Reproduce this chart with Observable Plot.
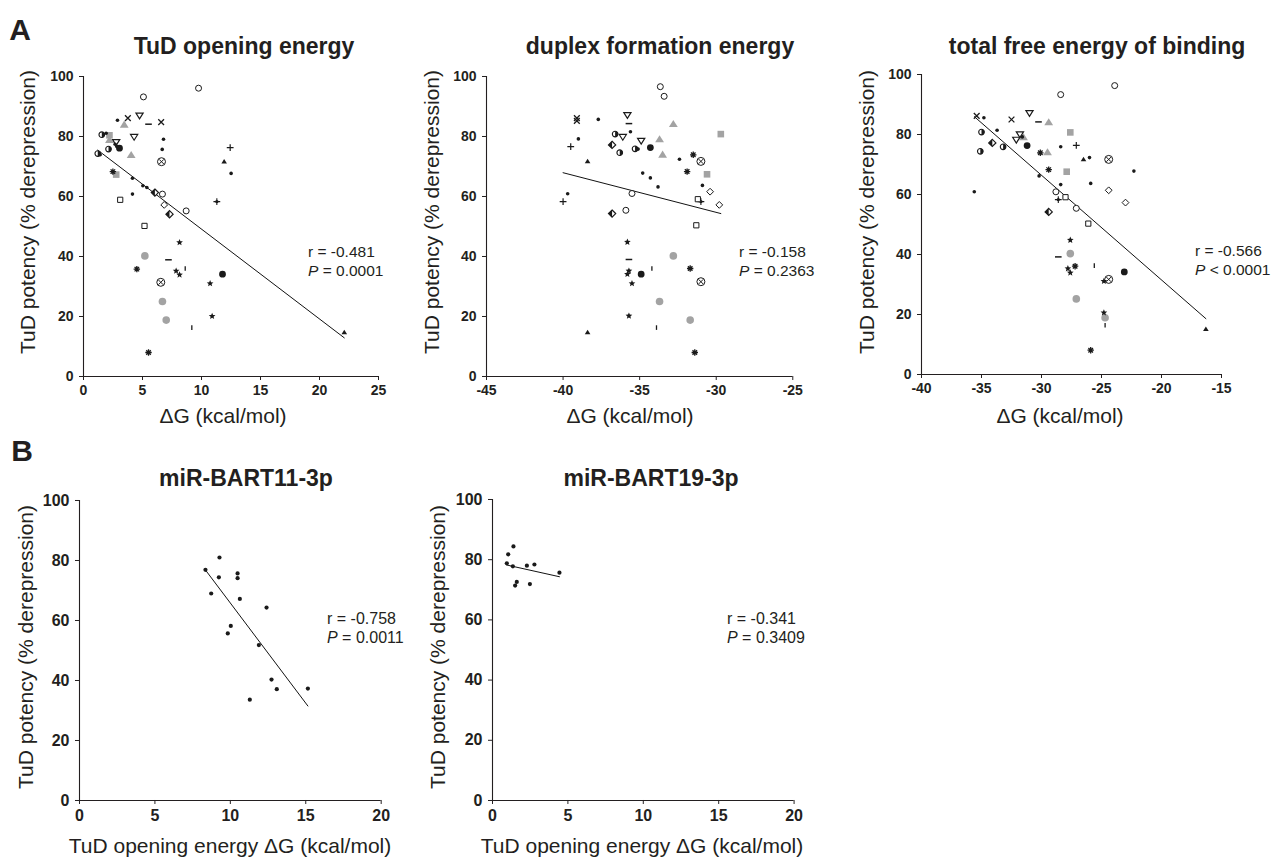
<!DOCTYPE html>
<html><head><meta charset="utf-8">
<script src="https://cdn.jsdelivr.net/npm/d3@7"></script>
<script src="https://cdn.jsdelivr.net/npm/@observablehq/plot@0.6"></script>
<style>
body{margin:0;background:#fff;}
#fig{position:relative;width:1272px;height:857px;font-family:"Liberation Sans",Arial,Helvetica,sans-serif;color:#231f20;overflow:hidden;background:#fff}
.lbl{position:absolute;white-space:nowrap;line-height:1;transform:translate(-50%,-50%)}
.ylab{transform:translate(-50%,-50%) rotate(-90deg)}
.panel{position:absolute}
.panel svg{overflow:visible}
.panel svg text{font-size:inherit}
.stat{position:absolute;white-space:nowrap;line-height:1;transform:translate(0,-50%)}
</style></head><body><div id="fig"></div>
<script>
// ---------- data ----------
const yTicks = [0, 20, 40, 60, 80, 100];
const p1Ticks = [0, 5, 10, 15, 20, 25];
const p2Ticks = [-45, -40, -35, -30, -25];
const p3Ticks = [-40, -35, -30, -25, -20, -15];
const bTicks = [0, 5, 10, 15, 20];

// Panel A1: TuD opening energy
const p1X = [9.75,5.08,2.88,3.76,3.45,4.75,5.51,6.58,1.55,1.92,
  2.20,2.20,2.77,4.29,2.12,2.68,2.82,3.05,4.04,6.78,
  6.67,6.61,1.21,1.41,12.43,11.92,12.51,2.49,2.77,4.15,
  4.15,5.03,5.37,6.05,6.69,6.84,7.29,8.70,11.30,3.11,
  5.17,8.14,5.20,7.20,4.52,7.85,8.14,8.62,11.78,6.55,
  10.73,6.69,7.01,10.90,9.18,5.51,22.1];
const p1Y = [96.1,93.2,85.4,86.1,83.9,87.0,84.1,84.8,80.6,81.1,
  80.4,78.8,78.2,79.9,75.8,77.4,76.7,76.1,73.8,79.1,
  75.7,71.6,74.3,73.9,76.3,71.6,67.7,68.3,67.3,66.1,
  60.8,63.6,63.0,61.3,60.8,57.2,54.1,55.2,58.3,58.9,
  50.2,44.7,40.2,38.9,35.8,35.2,33.9,36.0,34.1,31.4,
  31.0,25.0,18.8,20.1,16.3,8.0,14.7];
const p1G = ["oc","oc","dot","x","gtri","tdn","dash","x","hc","dot",
  "gsq","gtri","tdn","tdn","hc","dot","dot","fc","gtri","dot",
  "dot","otimes","hc","dot","plus","ftri","dot","ast","gsq","dot",
  "dot","dot","dot","hdia","oc","dia","hdia","oc","pd","osq",
  "osq","star","gc","dash","ast","star","star","bar","fc","otimes",
  "star","gc","gc","star","bar","ast","ftri"];

// Panel A2: duplex formation energy
const p2X = [-33.65,-33.4,-39.1,-39.1,-37.7,-35.8,-35.7,-32.8,-29.7,-36.6,
  -36.1,-35.6,-33.7,-34.9,-39.0,-39.5,-36.8,-36.3,-35.3,-35.1,
  -34.3,-33.5,-32.4,-31.5,-31.0,-38.4,-31.9,-30.6,-34.8,-34.3,
  -33.8,-30.9,-30.4,-29.8,-31.2,-31.0,-39.7,-40.0,-35.5,-35.9,
  -36.8,-31.3,-35.8,-32.8,-35.7,-35.7,-35.8,-34.9,-34.2,-31.7,
  -35.5,-31.0,-33.7,-35.7,-31.7,-33.9,-38.4,-31.4];
const p2Y = [96.6,93.4,86.1,85.2,85.7,87.2,84.3,84.1,80.8,80.8,
  79.9,81.6,79.0,78.6,79.2,76.6,77.2,74.6,75.9,75.8,
  76.3,73.9,72.4,73.9,71.7,71.7,68.3,67.4,67.8,66.2,
  63.2,63.7,61.6,57.2,59.1,58.3,60.9,58.3,61.0,55.4,
  54.3,50.4,44.8,40.2,39.0,35.2,34.1,34.1,36.0,36.0,
  31.0,31.6,25.0,20.2,18.8,16.3,14.7,8.0];
const p2G = ["oc","oc","x","x","dot","tdn","dash","gtri","gsq","hc",
  "tdn","dot","gtri","tdn","dot","plus","hdia","hc","hc","dot",
  "fc","gtri","dot","ast","otimes","ftri","ast","gsq","dot","dot",
  "dot","dot","dia","dia","osq","pd","dot","plus","oc","oc",
  "hdia","osq","star","gc","dash","star","star","fc","bar","ast",
  "star","otimes","gc","star","gc","bar","ftri","ast"];

// Panel A3: total free energy of binding
const p3X = [-23.9,-28.4,-35.4,-34.8,-32.5,-31.0,-30.25,-29.4,-27.6,-35.0,
  -33.7,-31.8,-32.1,-31.5,-34.1,-33.2,-31.2,-28.4,-27.1,-35.1,
  -30.1,-29.5,-26.5,-26.0,-24.4,-22.3,-29.4,-27.9,-30.2,-28.4,
  -25.9,-24.4,-23.0,-35.6,-28.8,-28.6,-28.0,-27.1,-29.4,-26.1,
  -27.6,-27.6,-28.6,-27.2,-27.8,-27.6,-25.6,-23.1,-24.8,-24.4,
  -27.1,-24.8,-24.7,-24.7,-25.9,-16.3,-31.6];
const p3Y = [96.3,93.3,86.2,85.6,85.0,87.2,84.2,84.0,80.7,80.8,
  81.4,80.1,78.3,79.0,77.2,75.9,76.3,75.9,76.4,74.4,
  73.9,74.0,71.7,72.3,71.7,67.8,68.3,67.6,66.2,63.3,
  63.7,61.4,57.3,60.9,60.9,58.3,59.1,55.4,54.2,50.3,
  44.8,40.3,39.2,36.1,35.3,33.9,36.3,34.2,31.1,31.7,
  25.2,20.6,18.9,16.4,8.1,15.1,79.2];
const p3G = ["oc","oc","x","dot","x","tdn","dash","gtri","gsq","hc",
  "dot","tdn","tdn","gtri","hdia","hc","fc","dot","plus","hc",
  "ast","gtri","ftri","dot","otimes","dot","ast","gsq","dot","dot",
  "dot","dia","dia","dot","oc","pd","osq","oc","hdia","osq",
  "star","gc","dash","ast","star","star","bar","fc","star","otimes",
  "gc","star","gc","bar","ast","ftri","dot"];

// Panel B1: miR-BART11-3p
const b1X = [8.35,9.28,9.24,8.73,10.48,10.48,10.63,10.03,9.83,12.4,11.89,12.73,13.08,15.14,11.29];
const b1Y = [76.9,81.0,74.4,69.0,75.7,74.1,67.2,58.2,55.7,64.3,51.8,40.3,37.1,37.3,33.6];
// Panel B2: miR-BART19-3p
const b2X = [1.04,1.39,0.95,1.35,2.28,2.78,4.44,1.61,1.5,2.48];
const b2Y = [81.8,84.4,78.8,77.8,78.0,78.4,75.7,72.6,71.4,71.9];

const titles = ["TuD opening energy", "duplex formation energy", "total free energy of binding", "miR-BART11-3p", "miR-BART19-3p"];
const yLabel = "TuD potency (% derepression)";
const xLabelA = "\u0394G (kcal/mol)";
const xLabelB = "TuD opening energy \u0394G (kcal/mol)";
const statR = ["r = -0.481", "r = -0.158", "r = -0.566", "r = -0.758", "r = -0.341"];
const statP = ["= 0.0001", "= 0.2363", "< 0.0001", "= 0.0011", "= 0.3409"];

// ---------- symbols ----------
const sym = fn => ({draw(c, size) { const r = Math.sqrt(size / Math.PI); fn(c, r); }});
const SYM = {
  circle: sym((c, r) => { c.moveTo(r, 0); c.arc(0, 0, r, 0, 2 * Math.PI); }),
  halfR: sym((c, r) => { c.moveTo(0, -r); c.arc(0, 0, r, -Math.PI / 2, Math.PI / 2); c.closePath(); }),
  times: sym((c, r) => { const a = r * 0.72; c.moveTo(-a, -a); c.lineTo(a, a); c.moveTo(-a, a); c.lineTo(a, -a); }),
  plus: sym((c, r) => { c.moveTo(-r, 0); c.lineTo(r, 0); c.moveTo(0, -r); c.lineTo(0, r); }),
  dash: sym((c, r) => { c.moveTo(-r, 0); c.lineTo(r, 0); }),
  bar: sym((c, r) => { c.moveTo(0, -r); c.lineTo(0, r); }),
  triDown: sym((c, r) => { c.moveTo(-r, -r * 0.65); c.lineTo(r, -r * 0.65); c.lineTo(0, r * 0.95); c.closePath(); }),
  triUp: sym((c, r) => { c.moveTo(0, -r * 0.95); c.lineTo(r, r * 0.65); c.lineTo(-r, r * 0.65); c.closePath(); }),
  square: sym((c, r) => { c.moveTo(-r, -r); c.lineTo(r, -r); c.lineTo(r, r); c.lineTo(-r, r); c.closePath(); }),
  diamond: sym((c, r) => { c.moveTo(0, -r); c.lineTo(r, 0); c.lineTo(0, r); c.lineTo(-r, 0); c.closePath(); }),
  halfDiamond: sym((c, r) => { c.moveTo(0, -r); c.lineTo(-r, 0); c.lineTo(0, r); c.closePath(); }),
  star: sym((c, r) => { for (let i = 0; i < 10; i++) { const a = -Math.PI / 2 + i * Math.PI / 5, rr = i % 2 ? r * 0.45 : r; const x = rr * Math.cos(a), y = rr * Math.sin(a); if (i) c.lineTo(x, y); else c.moveTo(x, y); } c.closePath(); }),
  asterisk: sym((c, r) => { for (let i = 0; i < 4; i++) { const a = i * Math.PI / 4; c.moveTo(-r * Math.cos(a), -r * Math.sin(a)); c.lineTo(r * Math.cos(a), r * Math.sin(a)); } })
};
const BLACK = "#1a1a1a", GRAY = "#a3a3a3";
const STYLE = {
  gc: [{s: "circle", r: 3.8, fill: GRAY}],
  gtri: [{s: "triUp", r: 4.4, fill: GRAY}],
  gsq: [{s: "square", r: 3.3, fill: GRAY}],
  oc: [{s: "circle", r: 3, fill: "white", stroke: BLACK, sw: 1}],
  fc: [{s: "circle", r: 3.4, fill: BLACK}],
  hc: [{s: "circle", r: 2.8, fill: "white", stroke: BLACK, sw: 1.1}, {s: "halfR", r: 2.8, fill: BLACK}],
  x: [{s: "times", r: 4, stroke: BLACK, sw: 1.3}],
  plus: [{s: "plus", r: 3.4, stroke: BLACK, sw: 1.2}],
  pd: [{s: "plus", r: 3.4, stroke: BLACK, sw: 1.1}, {s: "circle", r: 1.7, fill: BLACK}],
  dash: [{s: "dash", r: 3.3, stroke: BLACK, sw: 1.5}],
  bar: [{s: "bar", r: 2.3, stroke: BLACK, sw: 1.3}],
  tdn: [{s: "triDown", r: 3.6, fill: "white", stroke: BLACK, sw: 1.2}],
  ftri: [{s: "triUp", r: 2.8, fill: BLACK}],
  osq: [{s: "square", r: 2.6, fill: "white", stroke: BLACK, sw: 1}],
  dia: [{s: "diamond", r: 3.4, fill: "white", stroke: BLACK, sw: 1}],
  hdia: [{s: "diamond", r: 3.6, fill: "white", stroke: BLACK, sw: 1.2}, {s: "halfDiamond", r: 3.6, fill: BLACK}],
  otimes: [{s: "circle", r: 4, fill: "white", stroke: BLACK, sw: 1}, {s: "times", r: 3.3, stroke: BLACK, sw: 1}],
  star: [{s: "star", r: 3.5, fill: BLACK}],
  ast: [{s: "asterisk", r: 3.2, stroke: BLACK, sw: 1.3}],
  dot: [{s: "circle", r: 1.8, fill: BLACK}],
  bdot: [{s: "circle", r: 2.1, fill: BLACK}]
};

const fig = document.getElementById("fig");
const FONT = '"Liberation Sans", Arial, Helvetica, sans-serif';

function addText(txt, x, y, size, bold, cls) {
  const d = document.createElement("div");
  d.className = "lbl" + (cls ? " " + cls : "");
  d.textContent = txt;
  d.style.left = x + "px"; d.style.top = y + "px";
  d.style.fontSize = size + "px"; d.style.fontWeight = bold ? "bold" : "normal";
  fig.appendChild(d);
}
function addStat(i, x, y, size) {
  const a = document.createElement("div");
  a.className = "stat"; a.style.left = x + "px"; a.style.top = y + "px"; a.style.fontSize = size + "px";
  a.textContent = statR[i];
  fig.appendChild(a);
  const b = document.createElement("div");
  b.className = "stat"; b.style.left = x + "px"; b.style.top = (y + 19) + "px"; b.style.fontSize = size + "px";
  b.innerHTML = "<i>P</i> " + statP[i];
  fig.appendChild(b);
}

function panel({X, Y, G, xDomain, xTicks, axisX, yTop, w, h, fs}) {
  const data = X.map((x, i) => ({x, y: Y[i], g: G ? G[i] : "bdot"}));
  const mL = 50, mR = 14, mT = 12, mB = 32;
  const marks = [
    Plot.ruleY([0], {stroke: "#231f20", strokeWidth: 1.1}),
    Plot.ruleX([xDomain[0]], {stroke: "#231f20", strokeWidth: 1.1}),
    Plot.axisX({ticks: xTicks, tickSize: 4, tickPadding: 5, label: null, tickFormat: d => String(d), stroke: "#231f20", fill: "#231f20", fontSize: fs, fontWeight: "bold"}),
    Plot.axisY({ticks: yTicks, tickSize: 4, tickPadding: 6, label: null, tickFormat: d => String(d), stroke: "#231f20", fill: "#231f20", fontSize: fs, fontWeight: "bold"}),
    Plot.linearRegressionY(data, {x: "x", y: "y", stroke: "#111", strokeWidth: 1, ci: 0})
  ];
  for (const [g, layers] of Object.entries(STYLE)) {
    const sub = data.filter(d => d.g === g);
    if (!sub.length) continue;
    for (const L of layers) {
      marks.push(Plot.dot(sub, {x: "x", y: "y", symbol: SYM[L.s], r: L.r, fill: L.fill ?? "none", stroke: L.stroke ?? "none", strokeWidth: L.sw ?? 1}));
    }
  }
  const p = Plot.plot({
    width: w + mL + mR, height: h + mT + mB,
    marginLeft: mL, marginRight: mR, marginTop: mT, marginBottom: mB,
    x: {domain: xDomain}, y: {domain: [0, 100]},
    style: {fontFamily: FONT, fontSize: fs + "px", fontWeight: "bold", color: "#231f20", background: "transparent"},
    marks
  });
  const d = document.createElement("div");
  d.className = "panel";
  d.style.left = (axisX - mL) + "px"; d.style.top = (yTop - mT) + "px";
  d.style.fontSize = fs + "px";
  d.appendChild(p);
  fig.appendChild(d);
}

panel({X: p1X, Y: p1Y, G: p1G, xDomain: [0, 25], xTicks: p1Ticks, axisX: 83.3, yTop: 75.7, w: 295, h: 300, fs: 14});
panel({X: p2X, Y: p2Y, G: p2G, xDomain: [-45, -25], xTicks: p2Ticks, axisX: 486, yTop: 75.7, w: 306.3, h: 300, fs: 14});
panel({X: p3X, Y: p3Y, G: p3G, xDomain: [-40, -15], xTicks: p3Ticks, axisX: 920.7, yTop: 74.3, w: 300, h: 300, fs: 14});
panel({X: b1X, Y: b1Y, G: null, xDomain: [0, 20], xTicks: bTicks, axisX: 79.3, yTop: 500, w: 301.7, h: 300, fs: 16});
panel({X: b2X, Y: b2Y, G: null, xDomain: [0, 20], xTicks: bTicks, axisX: 491.7, yTop: 499, w: 301.6, h: 301, fs: 16});

// panel letters and titles
addText("A", 20, 30, 30, true);
addText("B", 22, 451, 30, true);
addText(titles[0], 244, 46, 23, true);
addText(titles[1], 660, 46, 23, true);
addText(titles[2], 1097, 46, 23, true);
addText(titles[3], 246, 478, 23, true);
addText(titles[4], 651, 478, 23, true);
// axis titles
addText(yLabel, 27, 212, 21, false, "ylab");
addText(yLabel, 431, 212, 21, false, "ylab");
addText(yLabel, 866, 212, 21, false, "ylab");
addText(yLabel, 25, 647, 21, false, "ylab");
addText(yLabel, 437, 647, 21, false, "ylab");
addText(xLabelA, 223, 415, 21, false);
addText(xLabelA, 630, 415, 21, false);
addText(xLabelA, 1060, 415, 21, false);
addText(xLabelB, 230, 845, 21, false);
addText(xLabelB, 642, 845, 21, false);
// stats
addStat(0, 308, 252, 15.5);
addStat(1, 739, 252, 15.5);
addStat(2, 1195, 251, 15.5);
addStat(3, 327, 619, 16);
addStat(4, 727, 619, 16);
</script></body></html>
